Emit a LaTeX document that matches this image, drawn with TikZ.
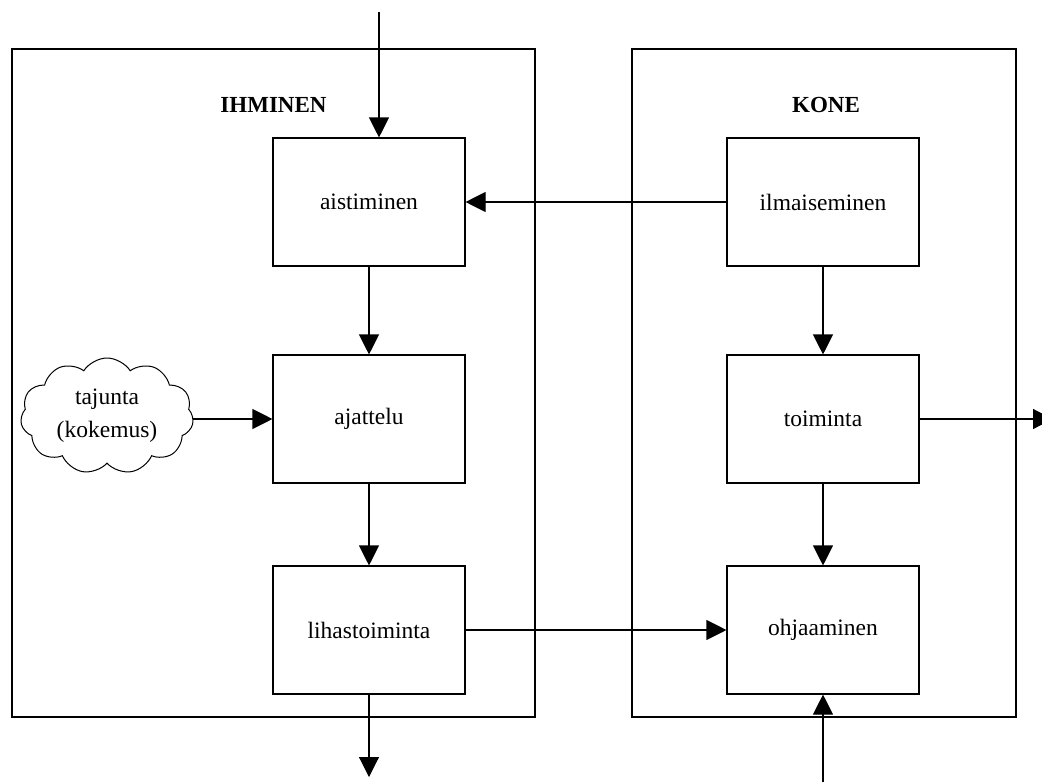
\documentclass[tikz,border=0pt]{standalone}
\usepackage{fontspec}
\setmainfont{Liberation Serif}
\usetikzlibrary{arrows.meta,shapes.symbols}
\begin{document}
\begin{tikzpicture}[x=1pt,y=-1pt,
  frame/.style={draw,line width=1.1pt,minimum width=#1},
  stage/.style={draw,line width=1.1pt,minimum width=192pt,minimum height=128pt,
    inner sep=0pt,font=\fontsize{23.5}{28}\selectfont},
  title/.style={font=\fontsize{23}{28}\selectfont\bfseries},
  flow/.style={line width=1.1pt,-{Triangle[length=20pt,width=20pt]}}]
\useasboundingbox (0,0) rectangle (1042,782);
% outer frames
\node[draw,line width=1.1pt,minimum width=523pt,minimum height=668pt,inner sep=0pt]
  (human) at (273.5,383) {};
\node[draw,line width=1.1pt,minimum width=384pt,minimum height=668pt,inner sep=0pt]
  (machine) at (824,383) {};
\node[title] (ht) at (273.5,105) {IHMINEN};
\node[title] (mt) at (826,105) {KONE};
% stages
\node[stage] (ais) at (369,202) {aistiminen};
\node[stage] (aja) at (369,419) {ajattelu};
\node[stage] (lih) at (369,630) {lihastoiminta};
\node[stage] (ilm) at (823,202) {ilmaiseminen};
\node[stage] (toi) at (823,419) {toiminta};
\node[stage] (ohj) at (823,630) {ohjaaminen};
% experience cloud
\node[cloud,draw,line width=1pt,cloud puffs=11,cloud puff arc=115,aspect=1.5,
  minimum width=173pt,minimum height=116pt,inner sep=0pt,align=center,
  font=\fontsize{23.5}{33}\selectfont] (taj) at (107,416) {tajunta\\(kokemus)};
% free ends
\coordinate (inTop) at (379,12);
\coordinate (outBot) at (369,777);
\coordinate (inBot) at (823,782);
\coordinate (outRight) at (1053,419);
% connectors
\draw[flow] (inTop) -- (inTop |- ais.north);
\draw[flow] (ilm.west) -- (ais.east);
\draw[flow] (ais.south) -- (aja.north);
\draw[flow] (taj.east |- aja.west) -- (aja.west);
\draw[flow] (aja.south) -- (lih.north);
\draw[flow] (lih.south) -- (outBot);
\draw[flow] (lih.east) -- (ohj.west);
\draw[flow] (ilm.south) -- (toi.north);
\draw[flow] (toi.south) -- (ohj.north);
\draw[flow] (toi.east) -- (outRight);
\draw[flow] (inBot) -- (ohj.south);
\end{tikzpicture}
\end{document}
